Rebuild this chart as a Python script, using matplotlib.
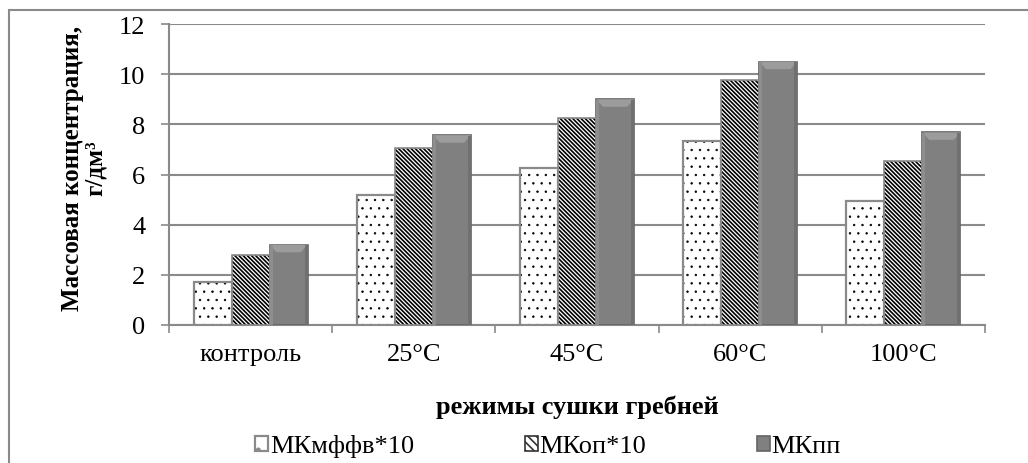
import numpy as np
import matplotlib
matplotlib.use("Agg")
import matplotlib.pyplot as plt
from matplotlib.patches import Rectangle, Polygon

categories = ["контроль", "25°C", "45°C", "60°C", "100°C"]
mk_mffv = [1.73, 5.19, 6.25, 7.32, 4.95]
mk_op = [2.80, 7.05, 8.27, 9.76, 6.55]
mk_pp = [3.20, 7.57, 9.00, 10.50, 7.68]
series_names = ["МКмффв*10", "МКоп*10", "МКпп"]
y_ticks = [0, 2, 4, 6, 8, 10, 12]

plt.rcParams["font.family"] = ["Liberation Serif", "DejaVu Serif"]
plt.rcParams["font.size"] = 19
plt.rcParams["hatch.linewidth"] = 1.2

grey = "#8a8a8a"

fig = plt.figure(figsize=(10.28, 4.64), dpi=100)
ax = fig.add_axes([169 / 1028, 1 - 326 / 464, 816 / 1028, 301 / 464])

x = np.arange(len(categories))
w = 0.233

# hatch layers in black, outlines drawn on top in grey
with plt.rc_context({"hatch.linewidth": 0.5}):
    dots = ax.bar(x - w, mk_mffv, w, facecolor="white", edgecolor="black",
                  hatch="..", linewidth=0, zorder=3)
for p in dots:
    if hasattr(p, "set_hatch_linewidth"):
        p.set_hatch_linewidth(0.5)
b1 = ax.bar(x - w, mk_mffv, w, facecolor="none", edgecolor=grey,
            linewidth=1.6, zorder=3.5, label=series_names[0])
ax.bar(x, mk_op, w, facecolor="white", edgecolor="black",
       hatch="\\" * 8, linewidth=0, zorder=3)
b2 = ax.bar(x, mk_op, w, facecolor="none", edgecolor="#8a8a8a",
            linewidth=1.2, zorder=3.5, label=series_names[1])
b3 = ax.bar(x + w, mk_pp, w, facecolor="#808080", edgecolor="#646464",
            linewidth=1.2, zorder=3, label=series_names[2])

# bevel look on the solid bars
for r in b3:
    x0, bw, h = r.get_x(), r.get_width(), r.get_height()
    bev = 0.3
    ax.add_patch(Polygon([(x0, h), (x0 + bw, h), (x0 + bw * 0.82, h - bev),
                          (x0 + bw * 0.18, h - bev)], closed=True,
                         facecolor="#9c9c9c", edgecolor="none", zorder=4))
    ax.add_patch(Rectangle((x0, 0), bw * 0.08, h - 0.03, facecolor="#8e8e8e",
                           edgecolor="none", zorder=4))
    ax.add_patch(Rectangle((x0 + bw * 0.92, 0), bw * 0.08, h - 0.03,
                           facecolor="#707070", edgecolor="none", zorder=4))

ax.set_xlim(-0.5, len(categories) - 0.5)
ax.set_ylim(0, 12)
ax.set_yticks(y_ticks)
ax.set_xticks(x)
ax.set_xticklabels(categories)
ax.set_xticks(np.arange(len(categories) + 1) - 0.5, minor=True)
ax.tick_params(axis="x", which="major", length=0, pad=13)
ax.tick_params(axis="x", which="minor", length=6, width=1.2, color=grey)
ax.tick_params(axis="y", length=6, width=1.2, color=grey, pad=11)

ax.yaxis.grid(True, color=grey, linewidth=1.5, zorder=0)
ax.set_axisbelow(True)
for s in ["top", "right"]:
    ax.spines[s].set_visible(False)
for s in ["left", "bottom"]:
    ax.spines[s].set_color(grey)
    ax.spines[s].set_linewidth(1.5)

fig.text(84 / 1028, 1 - 168 / 464, "Массовая концентрация,\nг/дм³",
         rotation=90, ha="center", va="center", fontweight="bold",
         multialignment="center", linespacing=1.0, fontsize=18)
fig.text(577 / 1028, 1 - 407 / 464, "режимы сушки гребней",
         ha="center", va="center", fontweight="bold")

leg = fig.legend(handles=[b1, b2, b3], loc="center",
                 bbox_to_anchor=(548 / 1028, 1 - 447 / 464), ncol=3,
                 frameon=False, handlelength=0.5, handleheight=0.5,
                 handletextpad=0.05, columnspacing=4.2, borderpad=0)
# legend keys: use the hatched look
hl = leg.legend_handles
hl[0].set_facecolor("white")
hl[0].set_hatch(".")
hl[1].set_facecolor("white")
hl[1].set_hatch("\\" * 4)
hl[1].set_edgecolor("#333333")

# outer chart frame (cut at right and bottom)
fig.add_artist(Rectangle((8.5 / 1028, -0.1), 1.2, 1 - 11 / 464 + 0.1,
                         transform=fig.transFigure, fill=False,
                         edgecolor=grey, linewidth=1.5))

fig.savefig("out.png", dpi=100)
